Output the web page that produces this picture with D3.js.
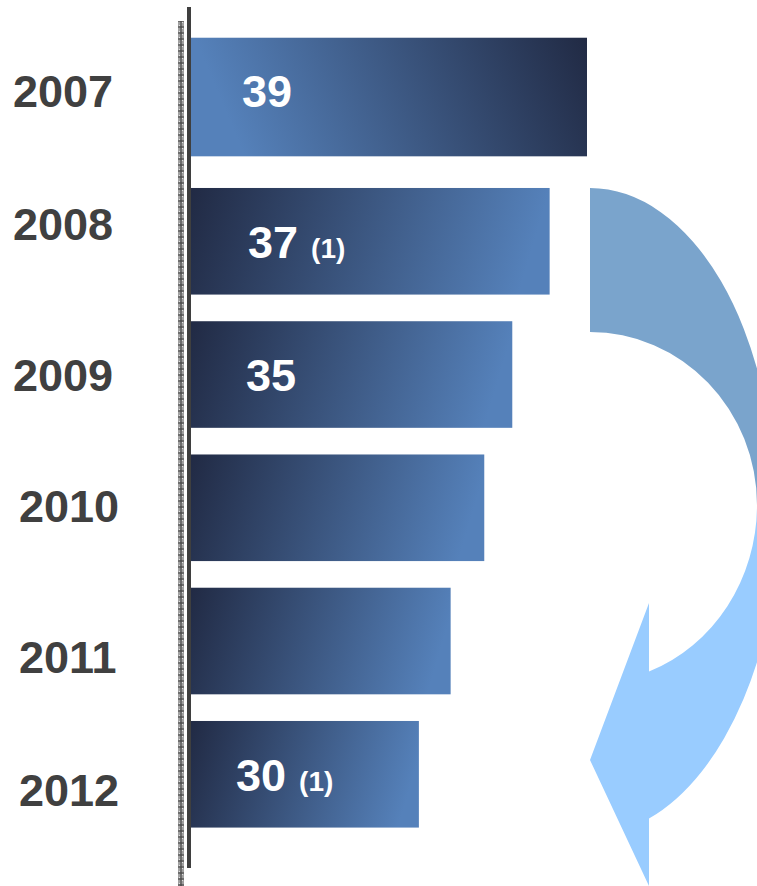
<!DOCTYPE html>
<html>
<head>
<meta charset="utf-8">
<script src="https://cdn.jsdelivr.net/npm/d3@7"></script>
<style>
  html, body { margin: 0; padding: 0; background: #ffffff; }
  svg { display: block; }
</style>
</head>
<body>
<svg id="chart" width="757" height="886"></svg>
<script>
// ---- data ----
const years = ["2007", "2008", "2009", "2010", "2011", "2012"];
const values = [39, 37, 35, 33.5, 31.7, 30];
const valueLabels = ["39", "37", "35", "", "", "30"];
const noteLabels = ["", "(1)", "", "", "", "(1)"];

// ---- layout (not data) ----
const W = 757, H = 886;
const barX0 = 191;
const yearX = [13, 13, 13, 19, 19, 19];
const yearBaseDy = [9.5, -1, 16, 14.5, 32, 32];
const valueXOff = [51, 57, 55, 0, 0, 45];
const valueBaseDy = [9.5, 17, 16, 0, 0, 17];
const barTopAdj = [-17, 0, 0, 0, 0, 0];
const barBotAdj = [-5, 0, 0, 0, 0, 0];
const DARK = "#212a44", LIGHT = "#5581ba";
const FONT = "'Liberation Sans', Arial, Helvetica, sans-serif";

const svg = d3.select("#chart");
const defs = svg.append("defs");

const y = d3.scaleBand().domain(years).range([41.4, 840.9]).paddingInner(0.2).paddingOuter(0.1);
const x = d3.scaleLinear().domain([17.8, 39]).range([0, 396]);

// hatched axis pattern
const pat = defs.append("pattern").attr("id", "hatch").attr("patternUnits", "userSpaceOnUse")
  .attr("width", 6).attr("height", 6).attr("x", 178).attr("y", 0);
pat.append("rect").attr("width", 6).attr("height", 6).attr("fill", "#a0a0a0");
pat.append("path").attr("d", "M0,3 H6 M3,0 V6").attr("stroke", "#3a3a3a").attr("stroke-width", 1);
pat.append("rect").attr("x", 1).attr("y", 1).attr("width", 1).attr("height", 1).attr("fill", "#dcdcdc");
pat.append("rect").attr("x", 4).attr("y", 4).attr("width", 1).attr("height", 1).attr("fill", "#dcdcdc");

// arrow (decorative)
const cx = 590, cy = 505;
svg.append("path")
  .attr("d", `M${cx},188 A185,317 0 0 1 ${cx + 185},${cy} L757,${cy} A167,173 0 0 0 ${cx},332 Z`)
  .attr("fill", "#7aa4cc");
(function () {
  const rxO = 191, ryO = 336, rxI = 167, ryI = 178;
  const xe = 649;
  const yOut = cy + ryO * Math.sqrt(1 - Math.pow((xe - cx) / rxO, 2));
  const yIn = cy + ryI * Math.sqrt(1 - Math.pow((xe - cx) / rxI, 2));
  svg.append("path")
    .attr("d", `M${cx + rxO},${cy} A${rxO},${ryO} 0 0 1 ${xe},${yOut - 6} L${xe},886 L590,760 L${xe},603 L${xe},${yIn} A${rxI},${ryI} 0 0 0 ${cx + rxI},${cy} Z`)
    .attr("fill", "#99ccff");
})();

// axis strip and line
svg.append("rect").attr("x", 178).attr("y", 21).attr("width", 6).attr("height", H - 21).attr("fill", "url(#hatch)");
svg.append("rect").attr("x", 187).attr("y", 7).attr("width", 4).attr("height", 861).attr("fill", "#3f3f3f");

// bars
years.forEach((yr, i) => {
  const top = y(yr) + barTopAdj[i];
  const h = y.bandwidth() - barTopAdj[i] + barBotAdj[i];
  const w = x(values[i]);
  const gid = "g" + i;
  let d, p1, c1, c2;
  if (i === 0) {
    d = [1, -0.42];
    p1 = [barX0, top + h];
    c1 = LIGHT; c2 = DARK;
  } else {
    d = [1, 0.3];
    p1 = [barX0, top];
    c1 = DARK; c2 = LIGHT;
  }
  const len = Math.hypot(d[0], d[1]);
  const u = [d[0] / len, d[1] / len];
  const far = i === 0 ? [w, -h] : [w, h];
  const proj = far[0] * u[0] + far[1] * u[1];
  const g = defs.append("linearGradient").attr("id", gid).attr("gradientUnits", "userSpaceOnUse")
    .attr("x1", p1[0]).attr("y1", p1[1])
    .attr("x2", p1[0] + proj * u[0]).attr("y2", p1[1] + proj * u[1]);
  if (i === 0) {
    g.append("stop").attr("offset", 0).attr("stop-color", c1);
    g.append("stop").attr("offset", 0.12).attr("stop-color", c1);
    g.append("stop").attr("offset", 1).attr("stop-color", c2);
  } else {
    g.append("stop").attr("offset", 0).attr("stop-color", c1);
    g.append("stop").attr("offset", 0.92).attr("stop-color", c2);
    g.append("stop").attr("offset", 1).attr("stop-color", c2);
  }
  svg.append("rect").attr("x", barX0).attr("y", top).attr("width", w).attr("height", h)
    .attr("fill", `url(#${gid})`);
});

// year labels
svg.selectAll("text.year").data(years).enter().append("text")
  .attr("class", "year")
  .attr("x", (d, i) => yearX[i])
  .attr("y", (d, i) => y(d) + barTopAdj[i] + (y.bandwidth() - barTopAdj[i] + barBotAdj[i]) / 2 + yearBaseDy[i])
  .attr("font-family", FONT).attr("font-weight", "bold").attr("font-size", 45)
  .attr("fill", "#404040")
  .text(d => d);

// value labels
years.forEach((yr, i) => {
  if (!valueLabels[i]) return;
  const top = y(yr) + barTopAdj[i];
  const h = y.bandwidth() - barTopAdj[i] + barBotAdj[i];
  const t = svg.append("text")
    .attr("x", barX0 + valueXOff[i])
    .attr("y", top + h / 2 + valueBaseDy[i])
    .attr("font-family", FONT).attr("font-weight", "bold").attr("fill", "#ffffff");
  t.append("tspan").attr("font-size", 45).text(valueLabels[i]);
  if (noteLabels[i]) {
    t.append("tspan").attr("font-size", 28).attr("dx", 13).text(noteLabels[i]);
  }
});
</script>
</body>
</html>
